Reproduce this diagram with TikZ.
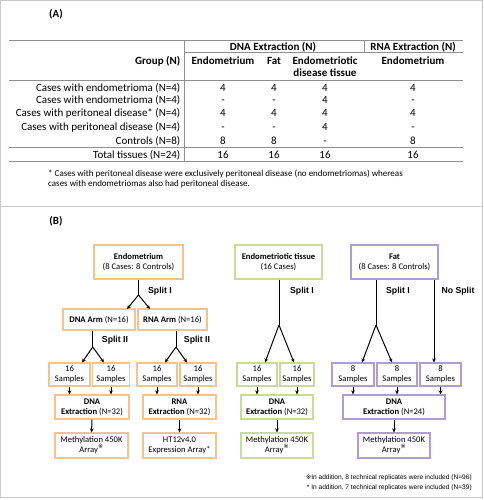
\documentclass[tikz,border=0pt]{standalone}
\usepackage{fontspec}
\setmainfont{Carlito}
\newfontfamily\arialf{Liberation Sans}
\newfontfamily\djv{DejaVu Sans}
\usetikzlibrary{arrows.meta}
\definecolor{orC}{HTML}{F6C28E}
\definecolor{grC}{HTML}{C9DA9B}
\definecolor{puC}{HTML}{AC9FCF}
\definecolor{ruleC}{HTML}{8F8F8F}
\definecolor{frameC}{HTML}{C8C8C8}
\newcommand{\refmark}{\textsuperscript{\djv ※}}
\begin{document}
\begin{tikzpicture}[x=1pt,y=-1pt,
  tb/.style={font=\fontsize{11}{13}\selectfont, inner sep=0, anchor=base},
  tbb/.style={tb, font=\fontsize{11}{13}\selectfont\bfseries},
  rl/.style={tb, anchor=base east},
  rule/.style={draw=ruleC, line width=0.9pt},
  bx/.style={draw, line width=1.2pt, fill=white, inner sep=0, align=center,
     font=\fontsize{8.6}{10}\selectfont},
  obox/.style={bx, draw=orC},
  gbox/.style={bx, draw=grC},
  pbox/.style={bx, draw=puC},
  splitlbl/.style={font=\arialf\bfseries\fontsize{8.7}{10}\selectfont, inner sep=0},
  conn/.style={line width=1pt, black},
  arr/.style={conn, -{Stealth[length=4pt,width=3.6pt]}},
  note/.style={font=\fontsize{9}{10}\selectfont, inner sep=0, anchor=base west},
  noteb/.style={font=\arialf\fontsize{6.6}{8}\selectfont, inner sep=0, anchor=base east}
]
\useasboundingbox (0,0) rectangle (483,500);
% frame
\draw[frameC, line width=1pt] (0.5,0.5) rectangle (482.5,497);
\draw[frameC, line width=1pt] (0.5,206) -- (482.5,206);

% ---------------- (A) table
\node[tbb] (labA) at (56,17.5) {(A)};
\draw[rule] (9,40) -- (463,40);
\draw[rule] (184,40) -- (184,161);
\draw[rule] (364,40) -- (364,52.5);
\draw[rule] (185,52.5) -- (463,52.5);
\draw[rule] (9,80) -- (463,80);
\draw[rule] (9,147.5) -- (463,147.5);
\draw[rule] (9,161) -- (463,161);

\node[tbb] (hdna) at (273,50.3) {DNA Extraction (N)};
\node[tbb] (hrna) at (413,50.3) {RNA Extraction (N)};
\node[tbb, anchor=base east] (hgrp) at (180.5,64.5) {Group (N)};
\node[tbb] (h1) at (223,64.5) {Endometrium};
\node[tbb] (h2) at (274,64.5) {Fat};
\node[tbb] (h3) at (325,64.5) {Endometriotic};
\node[tbb] (h3b) at (325,76.5) {disease tissue};
\node[tbb] (h4) at (413,64.5) {Endometrium};

\foreach \y/\lab/\a/\b/\c/\d [count=\i] in {
   91.4/Cases with endometrioma (N=4)/4/4/4/4,
   104/Cases with endometrioma (N=4)/-/-/4/-,
   117/Cases with peritoneal disease* (N=4)/4/4/4/4,
   130.3/Cases with peritoneal disease (N=4)/-/-/4/-,
   144.2/Controls (N=8)/8/8/-/8,
   158/Total tissues (N=24)/16/16/16/16}{
  \node[rl] (r\i) at (180.5,\y) {\lab};
  \node[tb] (r\i a) at (223,\y) {\a};
  \node[tb] (r\i b) at (274,\y) {\b};
  \node[tb] (r\i c) at (325,\y) {\c};
  \node[tb] (r\i d) at (413,\y) {\d};
}
\node[note] (fnA1) at (48,176) {* Cases with peritoneal disease were exclusively peritoneal disease (no endometriomas) whereas};
\node[note] (fnA2) at (48,186) {cases with endometriomas also had peritoneal disease.};

% ---------------- (B)
\node[tbb] (labB) at (56,224.5) {(B)};

% Endometrium branch
\node[obox, minimum width=89pt, minimum height=34pt] (endo) at (138.5,262) {\textbf{Endometrium}\\(8 Cases: 8 Controls)};
\node[obox, minimum width=72pt, minimum height=21pt] (dnaarm) at (99,319.5) {\textbf{DNA Arm} (N=16)};
\node[obox, minimum width=69pt, minimum height=21pt] (rnaarm) at (172.5,319.5) {\textbf{RNA Arm} (N=16)};
\node[obox, minimum width=41pt, minimum height=23pt] (s1) at (69.5,374.5) {16\\Samples};
\node[obox, minimum width=37pt, minimum height=23pt] (s2) at (111,374.5) {16\\Samples};
\node[obox, minimum width=40pt, minimum height=23pt] (s3) at (157,374.5) {16\\Samples};
\node[obox, minimum width=36pt, minimum height=23pt] (s4) at (198,374.5) {16\\Samples};
\node[obox, minimum width=74pt, minimum height=24pt] (dext) at (92,407) {\textbf{DNA}\\\textbf{Extraction} (N=32)};
\node[obox, minimum width=73pt, minimum height=24pt] (rext) at (179.5,407) {\textbf{RNA}\\\textbf{Extraction} (N=32)};
\node[obox, minimum width=73pt, minimum height=25pt] (meth1) at (91.5,445.5) {Methylation 450K\\Array\refmark};
\node[obox, minimum width=73pt, minimum height=25pt] (ht12) at (179.5,445.5) {HT12v4.0\\Expression Array*};

\coordinate (eA) at (138.5,295);
\coordinate (eT1) at (127,309);
\coordinate (eT2) at (150,309);
\draw[conn] (endo) -- (eA);
\draw[arr] (eA) -- (eT1);
\draw[arr] (eA) -- (eT2);
\node[splitlbl] (sp1) at (160,291) {Split I};

\coordinate (dA) at (92.7,347);
\coordinate (dT1) at (82,362.5);
\coordinate (dT2) at (104,362.5);
\draw[conn] (dnaarm.south -| dA) -- (dA);
\draw[arr] (dA) -- (dT1);
\draw[arr] (dA) -- (dT2);
\node[splitlbl] (sp2) at (115,340) {Split II};

\coordinate (rA) at (176,347);
\coordinate (rT1) at (165,362.5);
\coordinate (rT2) at (187,362.5);
\draw[conn] (rnaarm.south -| rA) -- (rA);
\draw[arr] (rA) -- (rT1);
\draw[arr] (rA) -- (rT2);
\node[splitlbl] (sp3) at (197,340) {Split II};

\foreach \s/\e in {s1/dext,s2/dext,s3/rext,s4/rext}
  \draw[arr, line width=0.8pt] (\s.south) -- (\s.south |- \e.north);
\draw[arr] (dext) -- (meth1);
\draw[arr] (rext) -- (ht12);

% Endometriotic tissue branch
\node[gbox, minimum width=87pt, minimum height=34pt] (ett) at (278.5,262) {\textbf{Endometriotic tissue}\\(16 Cases)};
\node[gbox, minimum width=40pt, minimum height=23pt] (g1) at (257,374.5) {16\\Samples};
\node[gbox, minimum width=34pt, minimum height=23pt] (g2) at (297,374.5) {16\\Samples};
\node[gbox, minimum width=72pt, minimum height=24pt] (gext) at (277,407) {\textbf{DNA}\\\textbf{Extraction} (N=32)};
\node[gbox, minimum width=72pt, minimum height=25pt] (gmeth) at (277,445.5) {Methylation 450K\\Array\refmark};
\coordinate (gA) at (279,325);
\coordinate (gT1) at (265,362.5);
\coordinate (gT2) at (294,362.5);
\draw[conn] (ett.south -| gA) -- (gA);
\draw[arr] (gA) -- (gT1);
\draw[arr] (gA) -- (gT2);
\node[splitlbl] (sp4) at (302,291) {Split I};
\foreach \s in {g1,g2}
  \draw[arr, line width=0.8pt] (\s.south) -- (\s.south |- gext.north);
\draw[arr] (gext) -- (gmeth);

% Fat branch
\node[pbox, minimum width=87pt, minimum height=34pt] (fat) at (394.5,262) {\textbf{Fat}\\(8 Cases: 8 Controls)};
\node[pbox, minimum width=42pt, minimum height=23pt] (p1) at (353,374.5) {8\\Samples};
\node[pbox, minimum width=40pt, minimum height=23pt] (p2) at (397,374.5) {8\\Samples};
\node[pbox, minimum width=41pt, minimum height=23pt] (p3) at (440.5,374.5) {8\\Samples};
\node[pbox, minimum width=102pt, minimum height=24pt] (pext) at (394,407) {\textbf{DNA}\\\textbf{Extraction} (N=24)};
\node[pbox, minimum width=72pt, minimum height=25pt] (pmeth) at (394,445.5) {Methylation 450K\\Array\refmark};
\coordinate (fA) at (376,325);
\coordinate (fT1) at (362,362.5);
\coordinate (fT2) at (392,362.5);
\draw[conn] (fat.south -| fA) -- (fA);
\draw[arr] (fA) -- (fT1);
\draw[arr] (fA) -- (fT2);
\node[splitlbl] (sp5) at (398,291) {Split I};
\coordinate (nsT) at (434,362.5);
\draw[arr] (fat.south -| nsT) -- (nsT);
\node[splitlbl] (sp6) at (458,291) {No Split};
\foreach \s in {p1,p2,p3}
  \draw[arr, line width=0.8pt] (\s.south) -- (\s.south |- pext.north);
\draw[arr] (pext) -- (pmeth);

% notes
\node[noteb] (fnB1) at (472,479.5) {{\djv ※}In addition, 8 technical replicates were included (N=96)};
\node[noteb] (fnB2) at (472,489.5) {* In addition, 7 technical replicates were included (N=39)};
\end{tikzpicture}
\end{document}
